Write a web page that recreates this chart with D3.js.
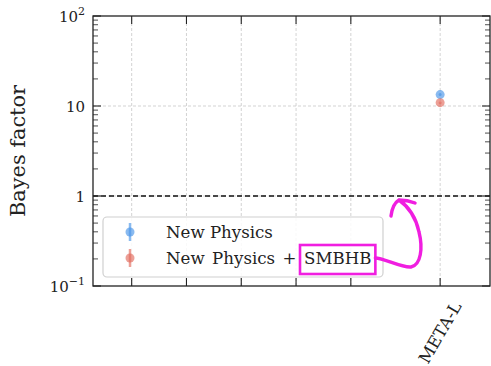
<!DOCTYPE html>
<html><head><meta charset="utf-8">
<script src="https://cdn.jsdelivr.net/npm/d3@7"></script>
<style>body{margin:0;background:#fff}svg{display:block}</style>
</head><body>
<script>
const categories = ["", "", "", "", "", "META-L"];
const xPositions = [1, 2, 3, 4, 5, 6.63];
const xDomain = [0.294, 7.54];
const yTicks = [0.1, 1, 10, 100];
const seriesNames = ["New Physics", "New Physics + SMBHB"];
const newPhysics = [null, null, null, null, null, 13.4];
const newPhysicsSMBHB = [null, null, null, null, null, 10.9];
const colors = ["#4a95e8", "#e26b5e"];

const W = 491, H = 366;
const m = {left: 93, right: 1, top: 16, bottom: 80};
const svg = d3.select("body").append("svg").attr("width", W).attr("height", H);
const font = "'DejaVu Serif',serif";
const x = d3.scaleLinear().domain(xDomain).range([m.left, W - m.right]);
const y = d3.scaleLog().domain([0.1, 100]).range([H - m.bottom, m.top]);
const x0 = m.left, x1 = W - m.right, y0 = H - m.bottom, y1 = m.top;

function fit(t, width) {
  const fs = +t.attr("font-size");
  const w = t.node().getComputedTextLength();
  t.attr("font-size", fs * width / w);
  return t;
}

// grid
const g = svg.append("g");
g.selectAll(".vg").data(xPositions).join("line")
  .attr("x1", d => x(d)).attr("x2", d => x(d)).attr("y1", y0).attr("y2", y1)
  .attr("stroke", "#c8c8c8").attr("stroke-width", 0.8).attr("stroke-dasharray", "3,2");
g.selectAll(".hg").data(yTicks.slice(1, -1)).join("line")
  .attr("x1", x0).attr("x2", x1).attr("y1", d => y(d)).attr("y2", d => y(d))
  .attr("stroke", "#c8c8c8").attr("stroke-width", 0.8).attr("stroke-dasharray", "3,2");

// reference line at 1
svg.append("line").attr("x1", x0).attr("x2", x1).attr("y1", y(1)).attr("y2", y(1))
  .attr("stroke", "#111").attr("stroke-width", 1.3).attr("stroke-dasharray", "5,3");

// axes (ticks inward)
const minor = [];
for (let e = -1; e < 2; e++) for (let k = 2; k <= 9; k++) minor.push(k * Math.pow(10, e));
function yAxis(sel, side) {
  const dir = side === "left" ? 1 : -1;
  const xx = side === "left" ? x0 : x1;
  sel.selectAll(".maj" + side).data(yTicks).join("line")
    .attr("x1", xx).attr("x2", xx + dir * 8).attr("y1", d => y(d)).attr("y2", d => y(d))
    .attr("stroke", "#222").attr("stroke-width", 1.1);
  sel.selectAll(".min" + side).data(minor).join("line")
    .attr("x1", xx).attr("x2", xx + dir * 5).attr("y1", d => y(d)).attr("y2", d => y(d))
    .attr("stroke", "#222").attr("stroke-width", 0.8);
}
yAxis(svg.append("g"), "left");
yAxis(svg.append("g"), "right");
["top", "bottom"].forEach(side => {
  const yy = side === "bottom" ? y0 : y1, dir = side === "bottom" ? -1 : 1;
  svg.append("g").selectAll("line").data(xPositions).join("line")
    .attr("x1", d => x(d)).attr("x2", d => x(d)).attr("y1", yy).attr("y2", yy + dir * 8)
    .attr("stroke", "#222").attr("stroke-width", 1.1);
});
svg.append("rect").attr("x", x0).attr("y", y1).attr("width", x1 - x0).attr("height", y0 - y1)
  .attr("fill", "none").attr("stroke", "#222").attr("stroke-width", 1.3);

// y tick labels
const yl = svg.append("g").attr("font-family", font).attr("font-size", 15).attr("fill", "#222");
yTicks.forEach(v => {
  const t = yl.append("text").attr("x", x0 - 8).attr("y", y(v) + 6).attr("text-anchor", "end");
  if (v === 100) { t.append("tspan").text("10"); t.append("tspan").attr("dy", -7).attr("font-size", 11).text("2"); }
  else if (v === 0.1) { t.append("tspan").text("10"); t.append("tspan").attr("dy", -7).attr("font-size", 11).text("−1"); }
  else t.text(d3.format("d")(v));
});
fit(svg.append("text").attr("transform", `translate(25,${(y0 + y1) / 2}) rotate(-90)`)
  .attr("text-anchor", "middle").attr("font-family", font).attr("font-size", 21).attr("fill", "#222")
  .text("Bayes factor"), 132);

// x labels
categories.forEach((c, i) => {
  if (!c) return;
  fit(svg.append("text").attr("transform", `translate(${x(xPositions[i]) + 1},${y0 + 47}) rotate(-60)`)
    .attr("text-anchor", "middle").attr("dominant-baseline", "middle")
    .attr("font-family", font).attr("font-size", 15).attr("fill", "#222").text(c), 68);
});

// points
[newPhysics, newPhysicsSMBHB].forEach((s, k) => {
  s.forEach((v, i) => {
    if (v == null) return;
    svg.append("circle").attr("cx", x(xPositions[i])).attr("cy", y(v)).attr("r", 4.5)
      .attr("fill", colors[k]).attr("fill-opacity", 0.65);
    svg.append("circle").attr("cx", x(xPositions[i])).attr("cy", y(v)).attr("r", 1.5)
      .attr("fill", colors[k]).attr("fill-opacity", 0.6);
  });
});

// legend
const lg = svg.append("g");
lg.append("rect").attr("x", 103).attr("y", 217).attr("width", 280).attr("height", 60).attr("rx", 4)
  .attr("fill", "#fff").attr("fill-opacity", 0.85).attr("stroke", "#d0d0d0").attr("stroke-width", 1.2);
const texts = [];
seriesNames.forEach((n, k) => {
  const cy = 232 + k * 26;
  lg.append("line").attr("x1", 130).attr("x2", 130).attr("y1", cy - 9).attr("y2", cy + 9)
    .attr("stroke", colors[k]).attr("stroke-opacity", 0.65).attr("stroke-width", 2.5);
  lg.append("circle").attr("cx", 130).attr("cy", cy).attr("r", 4.5).attr("fill", colors[k]).attr("fill-opacity", 0.65);
  texts.push(lg.append("text").attr("x", 166).attr("y", cy + 6).attr("font-family", font).attr("font-size", 17)
    .attr("fill", "#222").text(n));
});
fit(texts[0], 107);
texts[1].attr("font-size", texts[0].attr("font-size"));
const tn = texts[1].node();
const idx = seriesNames[1].indexOf("SMBHB");
let sx = tn.getStartPositionOfChar(idx).x;
texts[1].attr("word-spacing", (304 - sx) / 3);
sx = tn.getStartPositionOfChar(idx).x;
const sw = tn.getSubStringLength(idx, 5);

// annotation box around "SMBHB" and hand-drawn arrow
const mag = "#f01ee0";
svg.append("rect").attr("x", sx - 4).attr("y", 245).attr("width", sw + 8).attr("height", 29)
  .attr("fill", "none").attr("stroke", mag).attr("stroke-width", 2.6);
const ex = sx + sw + 4;
svg.append("path")
  .attr("d", `M${ex},258 C${ex + 8},258 402,268 411,267 C421,265 423,248 419,232 C416,218 409,207 399,200 M391,216 C392,208 394,203 399,200 C404,200 410,201 415,203`)
  .attr("fill", "none").attr("stroke", mag).attr("stroke-width", 3.4).attr("stroke-linecap", "round").attr("stroke-linejoin", "round");
</script>
</body></html>
